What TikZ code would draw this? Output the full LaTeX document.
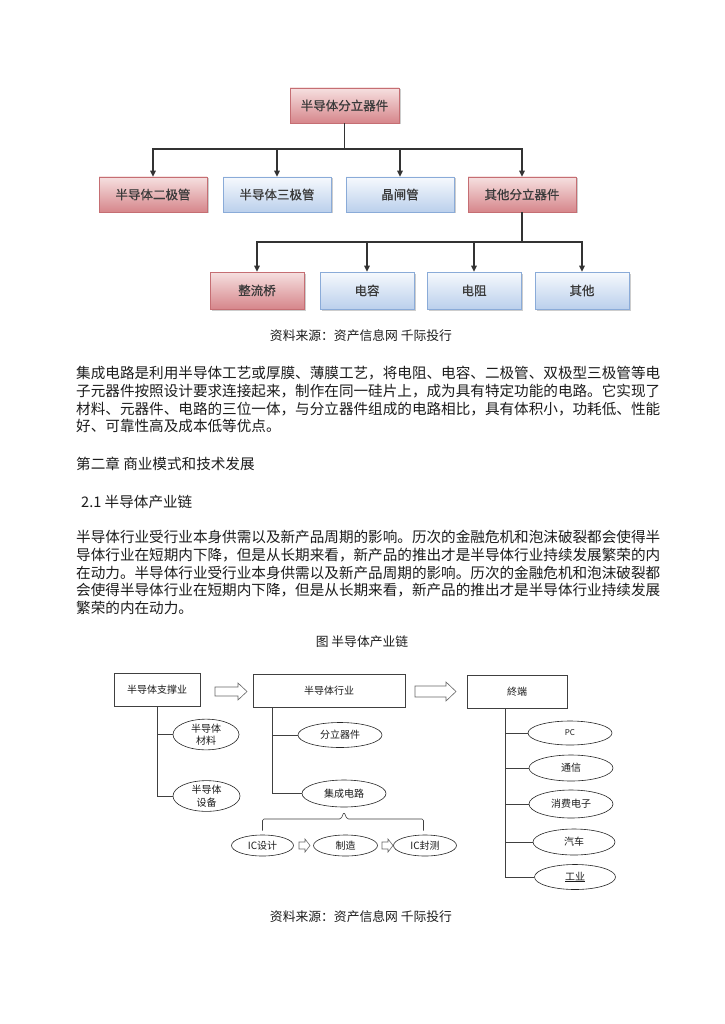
\documentclass[tikz,border=0pt]{standalone}
\usepackage{fontspec}
\setmainfont{Noto Sans CJK SC}
\newfontfamily\boxfont[FakeBold=0.6]{Noto Sans CJK SC}
\usetikzlibrary{arrows.meta,shapes.geometric,shadows,calc}
\definecolor{pinkT}{HTML}{F6E0E0}
\definecolor{pinkB}{HTML}{D6868B}
\definecolor{pinkD}{HTML}{C56E73}
\definecolor{blueT}{HTML}{F6F9FD}
\definecolor{blueB}{HTML}{BBD0EC}
\definecolor{blueD}{HTML}{8AABD8}
\definecolor{txt}{HTML}{1C1C1C}
\definecolor{boxtxt}{HTML}{3A3A3A}
\def\spr#1{\ifx\relax#1\else#1\hskip0pt plus 1pt\relax\expandafter\spr\fi}
\newcommand\jline[3]{\node[bodytext, anchor=base west] (#1) at (76,#2) {\hbox to 572pt{\spr #3\relax\unskip}};}
\newcommand\pline[3]{\node[bodytext, anchor=base west] (#1) at (76,#2) {#3};}
\newcommand\harrow[6]{\draw[harrowst] (#1,#3-#5) -- (#2-#6,#3-#5) -- (#2-#6,#3-#4) -- (#2,#3) -- (#2-#6,#3+#4) -- (#2-#6,#3+#5) -- (#1,#3+#5) -- cycle;}
\tikzset{
  bodytext/.style={inner sep=0, font=\fontsize{14.6}{17}\selectfont, text=txt},
  captext/.style={inner sep=0, font=\fontsize{12.8}{15}\selectfont, text=txt, anchor=base},
  shad/.style={drop shadow={shadow xshift=1.5pt, shadow yshift=-1.5pt, fill=gray!55, opacity=0.7}},
  pbox/.style={draw=pinkD, line width=0.6pt, top color=pinkT, bottom color=pinkB, minimum width=108pt, minimum height=35pt, inner sep=0, font=\boxfont\fontsize{12.5}{14}\selectfont, text=boxtxt, shad},
  bbox/.style={draw=blueD, line width=0.6pt, top color=blueT, bottom color=blueB, minimum width=108pt, minimum height=35pt, inner sep=0, font=\boxfont\fontsize{12.5}{14}\selectfont, text=boxtxt, shad},
  tarr/.style={-{Triangle[length=6pt,width=5.5pt]}, line width=1.1pt, draw=black!80},
  rbox/.style={draw=black!75, line width=0.6pt, minimum height=33pt, inner sep=0, font=\fontsize{10}{12}\selectfont, text=txt},
  ell/.style={ellipse, draw=black!85, line width=0.6pt, inner sep=0, font=\fontsize{10}{12.5}\selectfont, text=txt, align=center},
  tline/.style={draw=black!75, line width=0.6pt},
  harrowst/.style={draw=black!60, line width=0.6pt, fill=white}
}
\begin{document}
\begin{tikzpicture}[x=1pt,y=-1pt]
\useasboundingbox (0,0) rectangle (724,1024);
\fill[white] (0,0) rectangle (724,1024);

% ---------- top diagram ----------
\node[pbox, minimum width=109pt] (top) at (344.5,105.5) {半导体分立器件};
\node[pbox] (b1) at (153,194.5) {半导体二极管};
\node[bbox] (b2) at (277,194.5) {半导体三极管};
\node[bbox] (b3) at (400,194.5) {晶闸管};
\node[pbox] (b4) at (522,194.5) {其他分立器件};
\node[pbox, minimum width=94pt, minimum height=37pt] (c1) at (257,290.5) {整流桥};
\node[bbox, minimum width=94pt, minimum height=37pt] (c2) at (367,290.5) {电容};
\node[bbox, minimum width=94pt, minimum height=37pt] (c3) at (474,290.5) {电阻};
\node[bbox, minimum width=94pt, minimum height=37pt] (c4) at (582,290.5) {其他};
\coordinate (h1) at (344.5,149);
\coordinate (h2) at (522,242);
\foreach \n in {b1,b2,b3,b4} \draw[tarr] (top.south) -- (h1) -| (\n.north);
\foreach \n in {c1,c2,c3,c4} \draw[tarr] (b4.south) -- (h2) -| (\n.north);
\node[captext] (cap1) at (361,340) {资料来源：资产信息网 千际投行};

% ---------- text ----------
\jline{p1a}{378.5}{集成电路是利用半导体工艺或厚膜、薄膜工艺，将电阻、电容、二极管、双极型三极管等电}
\jline{p1b}{396.3}{子元器件按照设计要求连接起来，制作在同一硅片上，成为具有特定功能的电路。它实现了}
\jline{p1c}{414.1}{材料、元器件、电路的三位一体，与分立器件组成的电路相比，具有体积小，功耗低、性能}
\pline{p1d}{431.9}{好、可靠性高及成本低等优点。}
\pline{h1t}{469.5}{第二章 商业模式和技术发展}
\node[bodytext, anchor=base west] (h2t) at (81,507.5) {2.1 半导体产业链};
\jline{p2a}{542.5}{半导体行业受行业本身供需以及新产品周期的影响。历次的金融危机和泡沫破裂都会使得半}
\jline{p2b}{560.3}{导体行业在短期内下降，但是从长期来看，新产品的推出才是半导体行业持续发展繁荣的内}
\jline{p2c}{578.1}{在动力。半导体行业受行业本身供需以及新产品周期的影响。历次的金融危机和泡沫破裂都}
\jline{p2d}{595.9}{会使得半导体行业在短期内下降，但是从长期来看，新产品的推出才是半导体行业持续发展}
\pline{p2e}{613.7}{繁荣的内在动力。}
\node[captext] (cap2) at (362,646) {图 半导体产业链};

% ---------- bottom diagram ----------
\node[rbox, minimum width=86pt] (s1) at (157,690) {半导体支撑业};
\node[rbox, minimum width=152pt] (s2) at (329,690.5) {半导体行业};
\node[rbox, minimum width=100pt] (s3) at (517,691.5) {終端};
\harrow{215}{247}{691.5}{8.5}{4.5}{9}
\harrow{415}{456}{691.5}{9.5}{5.5}{10}

\node[ell, minimum width=66pt, minimum height=25pt] (m1) at (206,734.5) {半导体\\材料};
\node[ell, minimum width=67pt, minimum height=28pt] (m2) at (206.5,796) {半导体\\设备};
\draw[tline] (s1.south) |- (m1.west);
\draw[tline] (s1.south) |- (m2.west);

\node[ell, minimum width=84pt, minimum height=25pt] (d1) at (340,735) {分立器件};
\node[ell, minimum width=84pt, minimum height=27pt] (ic) at (344,793.5) {集成电路};
\draw[tline] ([xshift=20pt]s2.south west) |- (d1.west);
\draw[tline] ([xshift=20pt]s2.south west) |- (ic.west);

\node[ell, minimum width=62pt, minimum height=21pt] (e1) at (262.5,845.5) {IC设计};
\node[ell, minimum width=64pt, minimum height=21pt] (e2) at (345.5,845.5) {制造};
\node[ell, minimum width=63pt, minimum height=21pt] (e3) at (425,845.5) {IC封测};
\draw[tline, rounded corners=1.5pt] ([yshift=4pt]e1.north) -- (262.5,819) -- (341,819) -- (344,812) -- (347,819) -- (423.5,819) -- ([yshift=4pt,xshift=-1.5pt]e3.north);
\harrow{299}{310}{845.5}{6.5}{3.5}{5}
\harrow{382}{393}{845.5}{6.5}{3.5}{5}

\node[ell, minimum width=84pt, minimum height=24pt, font=\fontsize{8}{10}\selectfont] (t1) at (570,733) {PC};
\node[ell, minimum width=84pt, minimum height=26pt] (t2) at (571,768) {通信};
\node[ell, minimum width=84pt, minimum height=28pt] (t3) at (571,804) {消费电子};
\node[ell, minimum width=82pt, minimum height=26pt] (t4) at (574,842) {汽车};
\node[ell, minimum width=81pt, minimum height=25pt] (t5) at (575,877) {\underline{工业}};
\foreach \n in {t1,t2,t3,t4,t5} \draw[tline] ([xshift=39pt]s3.south west) |- (\n.west);

\node[captext] (cap3) at (361,921) {资料来源：资产信息网 千际投行};
\end{tikzpicture}
\end{document}
